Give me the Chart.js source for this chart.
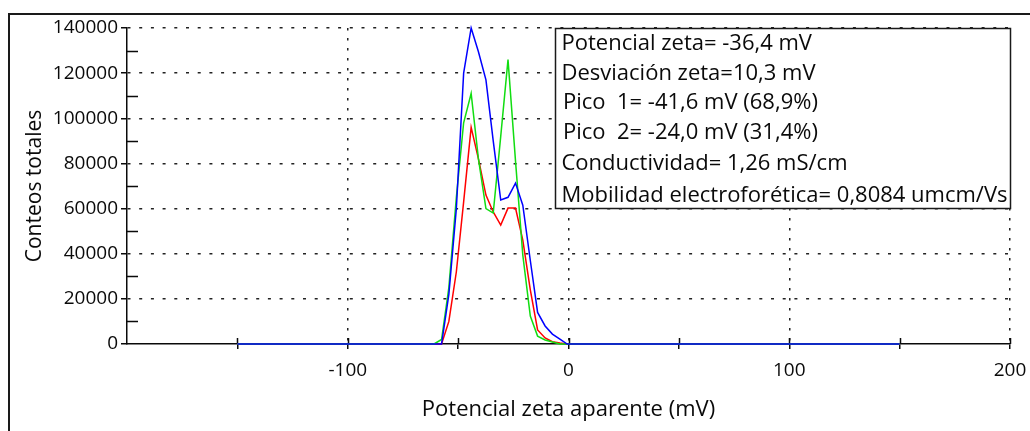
<!DOCTYPE html>
<html>
<head>
<meta charset="utf-8">
<script src="https://cdn.jsdelivr.net/npm/chart.js@4/dist/chart.umd.min.js"></script>
<style>
  html, body { margin: 0; padding: 0; background: #fff; }
  #lienzo { display: block; }
</style>
</head>
<body>
<canvas id="lienzo" width="1030" height="431"></canvas>
<script>
// Potencial zeta aparente (mV) de cada punto de la distribución
const potencialMv = [-150, -60.9, -57.5, -54.2, -50.8, -47.5, -44.1, -40.8, -37.4, -34.1, -30.7, -27.4, -24.0, -20.7, -17.3, -14.0, -10.6, -7.3, -3.9, -0.6, 2.8, 150];
// Conteos totales de las tres medidas
const conteosRojo  = [0, 0, 0, 10000, 32000, 63000, 96000, 82000, 66000, 58500, 52700, 60200, 60200, 46000, 24000, 6200, 2700, 1000, 400, 0, 0, 0];
const conteosVerde = [0, 0, 2000, 25000, 65000, 98000, 111000, 82000, 60000, 58000, 92000, 126000, 81000, 39400, 12400, 3500, 1800, 900, 0, 0, 0, 0];
const conteosAzul  = [0, 0, 0, 22000, 60000, 120000, 140000, 129500, 117000, 90000, 63800, 65000, 71300, 61500, 37000, 14000, 8000, 4400, 2200, 0, 0, 0];

// Etiquetas de los ejes
const etiquetasX = [-100, 0, 100, 200];
const etiquetasY = [0, 20000, 40000, 60000, 80000, 100000, 120000, 140000];

// Resultados de la medida
const resultados = [
  'Potencial zeta= -36,4 mV',
  'Desviación zeta=10,3 mV',
  'Pico  1= -41,6 mV (68,9%)',
  'Pico  2= -24,0 mV (31,4%)',
  'Conductividad= 1,26 mS/cm',
  'Mobilidad electroforética= 0,8084 umcm/Vs'
];

const FUENTE = '"Open Sans", "DejaVu Sans", sans-serif';
const TINTA = '#0a0a0a';

const puntos = (serie) => potencialMv.map((x, i) => ({ x, y: serie[i] }));

// Marco exterior del gráfico
const marco = {
  id: 'marco',
  beforeDraw(chart) {
    const { ctx, width, height } = chart;
    ctx.save();
    ctx.fillStyle = '#fff';
    ctx.fillRect(0, 0, width, height);
    ctx.strokeStyle = '#1a1a1a';
    ctx.lineWidth = 2;
    ctx.beginPath();
    ctx.moveTo(9, height + 5);
    ctx.lineTo(9, 14);
    ctx.lineTo(width + 5, 14);
    ctx.stroke();
    ctx.restore();
  }
};

// Marcas secundarias del eje Y y mitad interior de las marcas del eje X
const marcas = {
  id: 'marcas',
  beforeDatasetsDraw(chart) {
    const { ctx, chartArea, scales } = chart;
    ctx.save();
    ctx.strokeStyle = TINTA;
    ctx.lineWidth = 1.5;
    ctx.beginPath();
    for (let v = 10000; v < 140000; v += 20000) {
      const y = Math.round(scales.y.getPixelForValue(v)) + 0.5;
      ctx.moveTo(chartArea.left, y);
      ctx.lineTo(chartArea.left + 11, y);
    }
    for (let v = -150; v <= 200; v += 50) {
      const x = Math.round(scales.x.getPixelForValue(v)) + 0.5;
      ctx.moveTo(x, chartArea.bottom);
      ctx.lineTo(x, chartArea.bottom - 6);
    }
    ctx.stroke();
    ctx.restore();
  }
};

// Cuadro con los resultados
const cuadro = {
  id: 'cuadro',
  afterDraw(chart) {
    const { ctx, chartArea } = chart;
    const ancho = 455, alto = 180;
    const izq = chartArea.right - ancho, arriba = chartArea.top;
    ctx.save();
    ctx.fillStyle = '#fff';
    ctx.fillRect(izq, arriba, ancho, alto);
    ctx.strokeStyle = '#1a1a1a';
    ctx.lineWidth = 1.5;
    ctx.strokeRect(izq + 0.5, arriba + 0.5, ancho, alto);
    ctx.fillStyle = TINTA;
    ctx.font = '22px ' + FUENTE;
    ctx.textBaseline = 'alphabetic';
    ctx.textAlign = 'left';
    const lineas = [22, 51.5, 80.5, 110.5, 142, 173.5];
    resultados.forEach((t, i) => {
      const sangria = t.startsWith('Pico') ? 8 : 6.5;
      ctx.fillText(t, izq + sangria, arriba + lineas[i]);
    });
    ctx.restore();
  }
};

new Chart(document.getElementById('lienzo'), {
  type: 'line',
  data: {
    datasets: [
      { label: 'Medida 3', data: puntos(conteosAzul),  borderColor: '#0000ff', borderWidth: 1.5, clip: 4 },
      { label: 'Medida 2', data: puntos(conteosVerde), borderColor: '#11dd11', borderWidth: 1.5, clip: 4 },
      { label: 'Medida 1', data: puntos(conteosRojo),  borderColor: '#ff0000', borderWidth: 1.5, clip: 4 }
    ]
  },
  plugins: [marco, marcas, cuadro],
  options: {
    responsive: false,
    animation: false,
    devicePixelRatio: 1,
    layout: { padding: { left: 0, right: 20, top: 28, bottom: 0 } },
    elements: { point: { radius: 0 }, line: { tension: 0, fill: false } },
    plugins: { legend: { display: false }, tooltip: { enabled: false } },
    scales: {
      x: {
        type: 'linear',
        min: -200,
        max: 200,
        afterFit(s) { s.height = 87; s.paddingLeft = 0; s.paddingRight = 0; },
        ticks: {
          stepSize: 50,
          autoSkip: false,
          maxRotation: 0,
          padding: 10,
          color: TINTA,
          font: { family: FUENTE, size: 19 },
          callback: (v) => etiquetasX.includes(v) ? String(v) : ''
        },
        grid: {
          color: (c) => (c.tick && etiquetasX.includes(c.tick.value)) ? '#222' : 'rgba(0,0,0,0)',
          lineWidth: 1.5,
          tickLength: 5,
          tickWidth: 1.5,
          tickColor: (c) => (c.tick && c.tick.value > -200) ? TINTA : 'rgba(0,0,0,0)'
        },
        border: { color: TINTA, width: 1.5, dash: [2.5, 7.5] },
        title: {
          display: true,
          text: 'Potencial zeta aparente (mV)',
          color: TINTA,
          font: { family: FUENTE, size: 22 },
          padding: { top: 0, bottom: 8 }
        }
      },
      y: {
        min: 0,
        max: 140000,
        afterFit(s) { s.width = 127; },
        ticks: {
          stepSize: 10000,
          autoSkip: false,
          padding: 3,
          color: TINTA,
          font: { family: FUENTE, size: 19 },
          callback: (v) => etiquetasY.includes(v) ? String(v) : ''
        },
        grid: {
          color: (c) => (c.tick && c.tick.value > 0 && etiquetasY.includes(c.tick.value)) ? '#222' : 'rgba(0,0,0,0)',
          lineWidth: 1.5,
          tickLength: 6,
          tickWidth: 1.5,
          tickColor: (c) => (c.tick && etiquetasY.includes(c.tick.value)) ? TINTA : 'rgba(0,0,0,0)'
        },
        border: { color: TINTA, width: 1.5, dash: [3, 8.7] },
        title: {
          display: true,
          text: 'Conteos totales',
          color: TINTA,
          font: { family: FUENTE, size: 21 },
          padding: { top: 22, bottom: 0 }
        }
      }
    }
  }
});
</script>
</body>
</html>
